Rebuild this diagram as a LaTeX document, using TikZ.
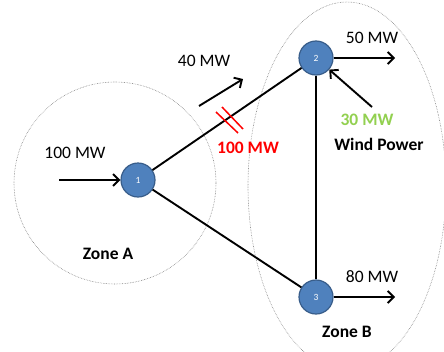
\documentclass[tikz,border=0pt]{standalone}
\usepackage{fontspec}
\setmainfont{Carlito}
\usetikzlibrary{arrows.meta, positioning}
\definecolor{busblue}{RGB}{79, 129, 189}
\definecolor{busedge}{RGB}{56, 93, 138}
\definecolor{windgreen}{RGB}{146, 208, 80}
\tikzset{
  bus/.style={
    circle,
    draw=busedge,
    line width=1.2pt,
    fill=busblue,
    minimum size=34pt,
    inner sep=0pt,
    font=\fontsize{9.5}{10}\selectfont\color{white}
  },
  tie/.style={
    draw=black,
    line width=1.9pt
  },
  zone/.style={
    draw=gray,
    densely dotted,
    line width=0.6pt
  },
  cut/.style={
    draw=red,
    line width=1.5pt
  },
  mw/.style={
    font=\fontsize{17.5}{20}\selectfont
  },
  mwbold/.style={
    font=\fontsize{17.5}{20}\selectfont\bfseries
  },
  every edge/.style={
    draw=black,
    line width=1.9pt,
    -{Straight Barb[length=6pt, width=12pt]}
  }
}
\begin{document}
\begin{tikzpicture}[x=1pt, y=-1pt]
          \useasboundingbox (0,0) rectangle (444,351);
          % zones
          \draw[zone] (115,183) circle (101pt);
          \draw[zone] (347,186) ellipse (99pt and 184pt);

          % buses and lines
          \node[bus] (bus1) at (138,180) {1};
          \node[bus] (bus2) at (316,58) {2};
          \node[bus] (bus3) at (316,297) {3};
          \draw[tie] (bus1) -- (bus2);
          \draw[tie] (bus1) -- (bus3);
          \draw[tie] (bus2) -- (bus3);

          % flows
          \coordinate (in1) at (59,180);
          \coordinate (out2) at (395,58);
          \coordinate (out3) at (395,297);
          \coordinate (wind) at (372,107);
          \coordinate (flowA) at (199,106);
          \coordinate (flowB) at (243,79);
          \path (in1) edge (bus1)
                (bus2) edge (out2)
                (bus3) edge (out3)
                (wind) edge (bus2)
                (flowA) edge (flowB);

          % line limit
          \draw[cut] (216,112) -- (238,133);
          \draw[cut] (222,107) -- (243,129);

          \node[mw] (load1) at (75,153) {100 MW};
          \node[mw] (flow12) at (204,61) {40 MW};
          \node[mwbold, text=red] (limit) at (248,148) {100 MW};
          \node[mw] (load2) at (372,38) {50 MW};
          \node[mwbold, text=windgreen] (windmw) at (367,120) {30 MW};
          \node[mwbold] (windname) at (379,144) {Wind Power};
          \node[mw] (load3) at (372,277) {80 MW};
          \node[mwbold] (zoneA) at (108,254) {Zone A};
          \node[mwbold] (zoneB) at (347,332) {Zone B};
        \end{tikzpicture}
\end{document}
